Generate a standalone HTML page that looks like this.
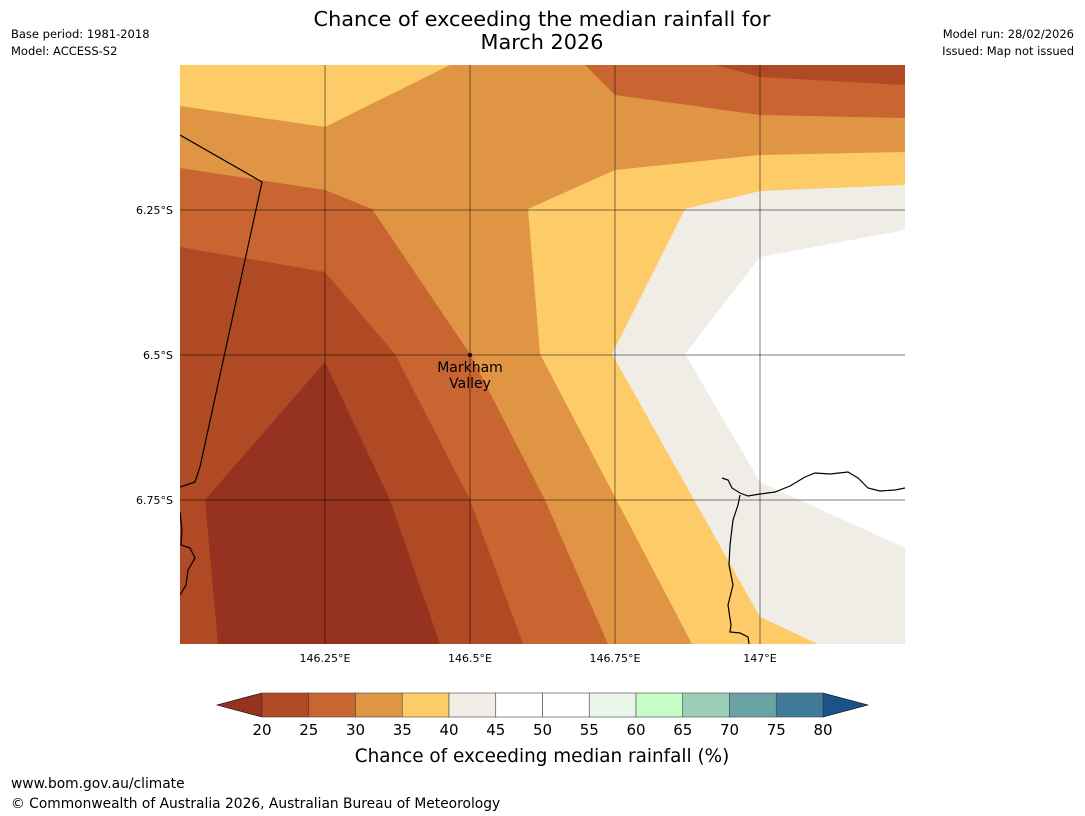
<!DOCTYPE html>
<html><head><meta charset="utf-8"><style>
body{margin:0;background:#fff;font-family:"Liberation Sans","DejaVu Sans",sans-serif}
svg{display:block}
</style></head><body>
<svg width="1085" height="816" viewBox="0 0 1085 816">
<text x="542" y="26" font-size="20.8" text-anchor="middle" font-family="DejaVu Sans,sans-serif">Chance of exceeding the median rainfall for</text>
<text x="542" y="49" font-size="20.8" text-anchor="middle" font-family="DejaVu Sans,sans-serif">March 2026</text>
<text x="11" y="38" font-size="11.5" font-family="DejaVu Sans,sans-serif">Base period: 1981-2018</text>
<text x="11" y="55" font-size="11.5" font-family="DejaVu Sans,sans-serif">Model: ACCESS-S2</text>
<text x="1074" y="38" font-size="11.5" text-anchor="end" font-family="DejaVu Sans,sans-serif">Model run: 28/02/2026</text>
<text x="1074" y="55" font-size="11.5" text-anchor="end" font-family="DejaVu Sans,sans-serif">Issued: Map not issued</text>
<defs><clipPath id="mapclip"><rect x="180" y="65" width="725" height="579"/></clipPath></defs>
<g id="map" clip-path="url(#mapclip)"></g>
<g id="axes"></g>
<g id="cbar"></g>
<text x="542" y="762" font-size="18.4" text-anchor="middle" font-family="DejaVu Sans,sans-serif">Chance of exceeding median rainfall (%)</text>
<text x="11" y="788" font-size="13.8" font-family="DejaVu Sans,sans-serif">www.bom.gov.au/climate</text>
<text x="11" y="808" font-size="13.8" font-family="DejaVu Sans,sans-serif">© Commonwealth of Australia 2026, Australian Bureau of Meteorology</text>
</svg>
<script>
const NS="http://www.w3.org/2000/svg";
const lonTicks=[146.25,146.5,146.75,147];
const latTicks=[6.25,6.5,6.75];
const lonTickLabels=["146.25°E","146.5°E","146.75°E","147°E"];
const latTickLabels=["6.25°S","6.5°S","6.75°S"];
const cbarLevels=[20,25,30,35,40,45,50,55,60,65,70,75,80];
const cbarColors=["#b04a24","#c96531","#e09545","#fdcb67","#f0ece6","#ffffff","#ffffff","#eaf5e9","#c7fcc7","#9ccfb8","#6aa3a4","#3f7a99"];
function P(pts){return pts.map(p=>[146+(p[0]-180)/580,6+(p[1]-65)/580]);}
const bandCream=P([[180,65],[905,65],[905,644],[180,644]]);
const bandWhite=P([[905,230],[760,257],[685,354],[760,482],[905,548]]);
const bandYellow=P([[180,65],[905,65],[905,185],[760,191],[685,209],[612,354],[760,617],[818,644],[180,644]]);
const bandOrange=P([[180,106],[325,127],[450,65],[905,65],[905,152],[760,155],[615,170],[528,209],[540,354],[692,644],[180,644]]);
const bandRust1=P([[180,168],[325,190],[372,209],[470,354],[545,500],[608,644],[180,644]]);
const bandRust2=P([[585,65],[905,65],[905,118],[760,115],[615,95]]);
const bandBrown1=P([[180,247],[325,272],[395,354],[470,500],[523,644],[180,644]]);
const bandBrown2=P([[715,65],[905,65],[905,85],[760,77]]);
const bandDark=P([[205,500],[325,362],[390,500],[440,644],[218,644]]);
const coastBorder=P([[180,135],[262,182],[200,467],[195,482],[180,487]]);
const coastLeft=P([[180,512],[182,530],[181,545],[190,548],[195,558],[188,570],[186,585],[180,595]]);
const coastRight=P([[722,478],[728,480],[732,488],[740,493],[748,496],[760,494],[775,492],[790,486],[805,477],[815,473],[830,474],[848,472],[858,478],[868,488],[880,491],[895,490],[905,488]]);
const coastRight2=P([[740,495],[738,505],[733,520],[730,545],[729,565],[733,585],[728,605],[731,625],[730,632],[740,633],[748,637],[749,644]]);
const bands=[["#f0ece6",bandCream],["#ffffff",bandWhite],["#fdcb67",bandYellow],["#e09545",bandOrange],["#c96531",bandRust1],["#c96531",bandRust2],["#b04a24",bandBrown1],["#b04a24",bandBrown2],["#963220",bandDark]];
const X=lon=>180+(lon-146)*580, Y=lat=>65+(lat-6)*580;
const map=document.getElementById('map'), axes=document.getElementById('axes'), cb=document.getElementById('cbar');
function mk(t,a,parent){const e=document.createElementNS(NS,t);for(const k in a)e.setAttribute(k,a[k]);parent.appendChild(e);return e;}
bands.forEach((b,i)=>{const e=mk('polygon',{points:b[1].map(p=>X(p[0])+','+Y(p[1])).join(' '),fill:b[0]},map);

});
[coastBorder,coastLeft,coastRight,coastRight2].forEach(c=>{const e=mk('polyline',{points:c.map(p=>X(p[0])+','+Y(p[1])).join(' '),fill:'none',stroke:'#000','stroke-width':1.2},map);

});
lonTicks.forEach((l,i)=>{const e=mk('line',{x1:X(l),x2:X(l),y1:65,y2:644,stroke:'#000','stroke-opacity':0.5,'stroke-width':1},map);


const t=mk('text',{x:X(l),y:662,'font-size':11,'text-anchor':'middle','font-family':'DejaVu Sans,sans-serif'},axes);t.textContent=lonTickLabels[i];

});
latTicks.forEach((l,i)=>{const e=mk('line',{x1:180,x2:905,y1:Y(l),y2:Y(l),stroke:'#000','stroke-opacity':0.5,'stroke-width':1},map);


const t=mk('text',{x:173,y:Y(l)+4,'font-size':11,'text-anchor':'end','font-family':'DejaVu Sans,sans-serif'},axes);t.textContent=latTickLabels[i];

});
const mp=mk('circle',{cx:X(146.5),cy:Y(6.5),r:2,fill:'#000'},axes);


[["Markham",372],["Valley",388]].forEach(s=>{const t=mk('text',{x:470,y:s[1],'font-size':14,'text-anchor':'middle','font-family':'DejaVu Sans,sans-serif'},axes);t.textContent=s[0];

});
const cx0=262,cx1=823,cy0=693,cy1=717,n=cbarColors.length,w=(cx1-cx0)/n;
const lt=mk('polygon',{points:`${cx0},${cy0} 217,705 ${cx0},${cy1}`,fill:'#963220',stroke:'#000','stroke-width':0.6},cb);


const rt=mk('polygon',{points:`${cx1},${cy0} 868,705 ${cx1},${cy1}`,fill:'#1a5289',stroke:'#000','stroke-width':0.6},cb);


cbarColors.forEach((c,i)=>{const r=mk('rect',{x:cx0+i*w,y:cy0,width:w,height:cy1-cy0,fill:c,stroke:'#444','stroke-width':0.6},cb);

});
cbarLevels.forEach((v,i)=>{const t=mk('text',{x:cx0+i*w,y:735,'font-size':15,'text-anchor':'middle','font-family':'DejaVu Sans,sans-serif'},cb);t.textContent=v;

});
</script>
</body></html>
